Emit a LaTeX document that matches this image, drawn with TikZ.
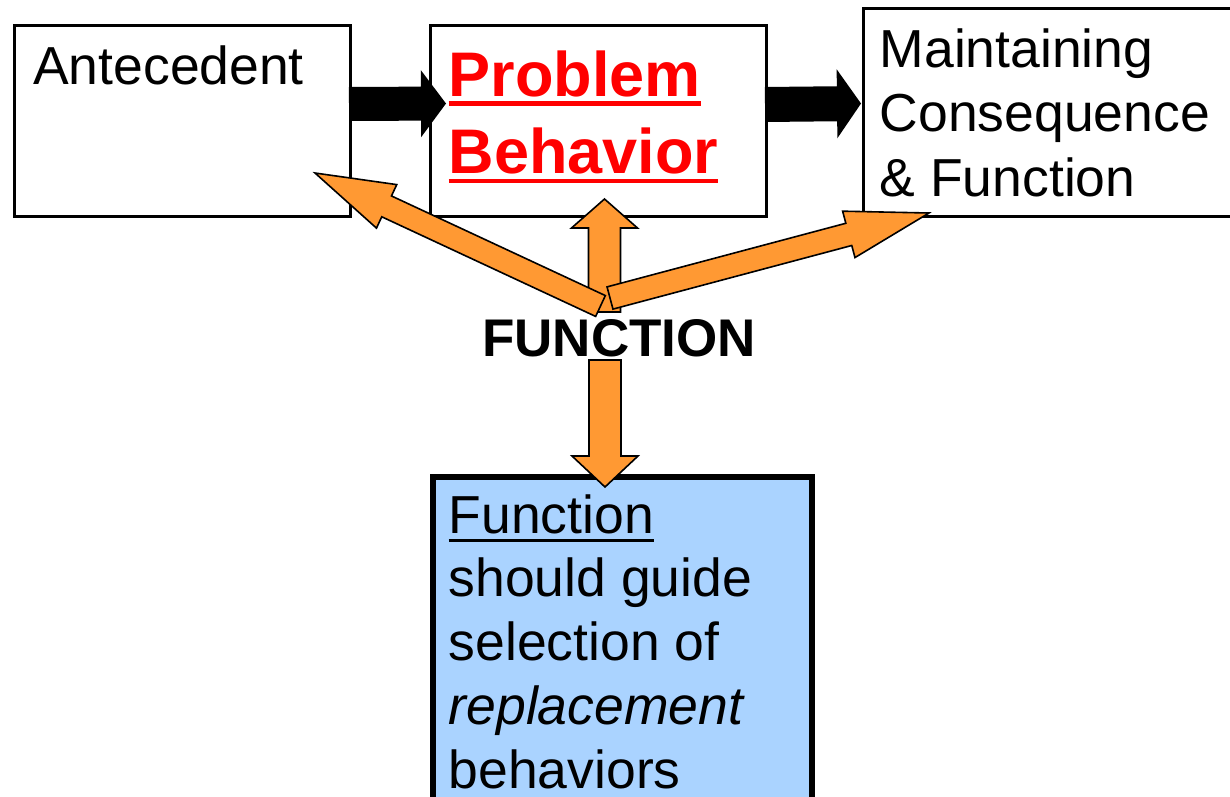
\documentclass[tikz,border=0pt]{standalone}
\usepackage{fontspec}
\setmainfont{Liberation Sans}
\usetikzlibrary{calc}

\definecolor{arroworange}{RGB}{255,153,51}
\definecolor{notefill}{RGB}{170,211,255}
\definecolor{probred}{RGB}{255,0,0}

% text with a rule under it: #1 distance of the rule's lower edge below the baseline, #2 rule thickness
\newcommand\ulined[3]{\setbox0\hbox{#3}\rlap{\rule[-#1]{\wd0}{#2}}\box0}

% block arrow from #2 to #3: #4 half shaft width, #5 half head width, #6 head length
\newcommand\blockarrow[6]{%
  \coordinate (ba-h) at ($(#3)!#6!(#2)$);
  \draw[#1] ($(#2)!#4!90:(#3)$) -- ($(ba-h)!#4!90:(#3)$) -- ($(ba-h)!#5!90:(#3)$) -- (#3)
    -- ($(ba-h)!#5!-90:(#3)$) -- ($(ba-h)!#4!-90:(#3)$) -- ($(#2)!#4!-90:(#3)$) -- cycle;}

\begin{document}
\begin{tikzpicture}[x=1pt,y=-1pt,
  box/.style={draw=black, line width=2.6pt, fill=white, rectangle, inner sep=0pt, anchor=north west},
  notebox/.style={draw=black, line width=6pt, fill=notefill, rectangle, inner sep=0pt, anchor=north west},
  txt/.style={inner sep=0pt, anchor=base west, font=\fontsize{53.5}{64}\selectfont},
  redtxt/.style={inner sep=0pt, anchor=base west, text=probred, font=\fontsize{63}{77}\selectfont\bfseries},
  boldtxt/.style={inner sep=0pt, anchor=base, font=\fontsize{53}{64}\selectfont\bfseries},
  blackarrow/.style={fill=black, draw=none},
  orangearrow/.style={fill=arroworange, draw=black, line width=1.6pt, line join=miter}]

\clip (0,0) rectangle (1230,796);

% top row of boxes
\node[box, minimum width=336pt, minimum height=191pt] (ante) at (13,24) {};
\node[box, minimum width=336pt, minimum height=191pt] (prob) at (429,24) {};
\node[box, minimum width=378pt, minimum height=208pt] (maint) at (862,7) {};

% black arrows between the top boxes
\coordinate (a1s) at (349,104);
\coordinate (a1t) at (446,103.5);
\coordinate (a2s) at (765,104.5);
\coordinate (a2t) at (861,103.5);
\blockarrow{blackarrow}{a1s}{a1t}{17pt}{33.5pt}{25pt}
\blockarrow{blackarrow}{a2s}{a2t}{17.5pt}{34.5pt}{24pt}

% texts of the top boxes
\node[txt] (antetext) at (33,84) {Antecedent};
\node[redtxt] (probtext) at (448.5,96)
  {\vtop{\baselineskip=77pt \hbox{\ulined{9.5pt}{4.5pt}{Problem}}\hbox{\ulined{10pt}{4.5pt}{Behavior}}}};
\node[txt] (mainttext) at (879.5,67)
  {\vtop{\baselineskip=64.8pt \hbox{Maintaining}\hbox{Consequence}\hbox{\& Function}}};

% blue note box
\node[notebox, minimum width=379pt, minimum height=346pt] (note) at (429.5,474) {};

% orange arrows around FUNCTION
\coordinate (hubU) at (604.5,312);
\coordinate (upTip) at (604.5,199);
\coordinate (hubL) at (600.5,306);
\coordinate (leftTip) at (315,173);
\coordinate (hubR) at (610,298);
\coordinate (rightTip) at (929,213);
\coordinate (downTail) at (605,360);
\coordinate (downTip) at (605,487);
\blockarrow{orangearrow}{hubU}{upTip}{16pt}{33pt}{29pt}
\blockarrow{orangearrow}{hubL}{leftTip}{11.5pt}{24pt}{79pt}
\blockarrow{orangearrow}{hubR}{rightTip}{11.5pt}{24pt}{83pt}
\blockarrow{orangearrow}{downTail}{downTip}{16pt}{33pt}{31pt}

\node[boldtxt] (func) at (619,356) {FUNCTION};

% text of the note box
\node[txt] (notetext) at (448.5,533)
  {\vtop{\baselineskip=63.8pt \hbox{\ulined{8.5pt}{3pt}{Function}}\hbox{should guide}\hbox{selection of}\hbox{\itshape replacement}\hbox{behaviors}}};

\end{tikzpicture}
\end{document}
